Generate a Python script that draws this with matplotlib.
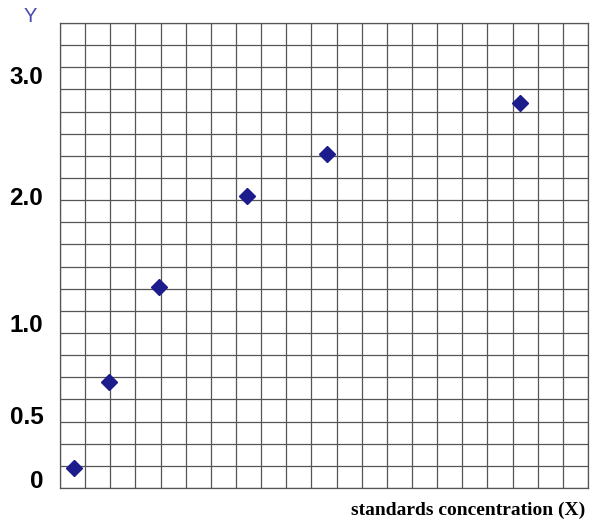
import matplotlib.pyplot as plt
import numpy as np

# hand-drawn graph paper: positions are in grid squares
x_vals = [0.57, 1.93, 3.95, 7.45, 10.6, 18.3]
y_vals = [0.92, 4.8, 9.1, 13.2, 15.1, 17.4]

y_tick_pos = [0.4, 3.3, 7.45, 13.2, 18.65]
y_tick_labels = ['0', '0.5', '1.0', '2.0', '3.0']

n_cols = 21
n_rows = 21


def main():
    fig = plt.figure(figsize=(6, 5.23), dpi=100)
    ax = fig.add_axes([0.1, 0.0669, 0.88, 0.8891])

    ax.set_xlim(0, n_cols)
    ax.set_ylim(0, n_rows)

    ax.set_xticks(np.arange(0, n_cols + 1), minor=True)
    ax.set_yticks(np.arange(0, n_rows + 1), minor=True)
    ax.set_xticks([])
    ax.set_yticks(y_tick_pos)
    ax.set_yticklabels(y_tick_labels, fontsize=17.5, fontweight='bold',
                       family='Liberation Sans')
    ax.tick_params(axis='both', which='both', length=0)
    ax.tick_params(axis='y', pad=12)
    ax.grid(which='minor', color='#555555', linewidth=0.9)
    for s in ax.spines.values():
        s.set_color('#555555')
        s.set_linewidth(0.9)

    ax.plot(x_vals, y_vals, linestyle='none', marker='D', markersize=8.5,
            color='#1c1c8c', zorder=3, clip_on=False)

    fig.text(0.05, 0.968, 'Y', color='#4a4ab0', fontsize=14.5,
             family='Liberation Sans', ha='center', va='center')
    fig.text(0.975, 0.025, 'standards concentration (X)', fontsize=14,
             fontweight='bold', family='Liberation Serif', ha='right', va='center')

    plt.savefig('out.png', dpi=100)


if __name__ == '__main__':
    main()
